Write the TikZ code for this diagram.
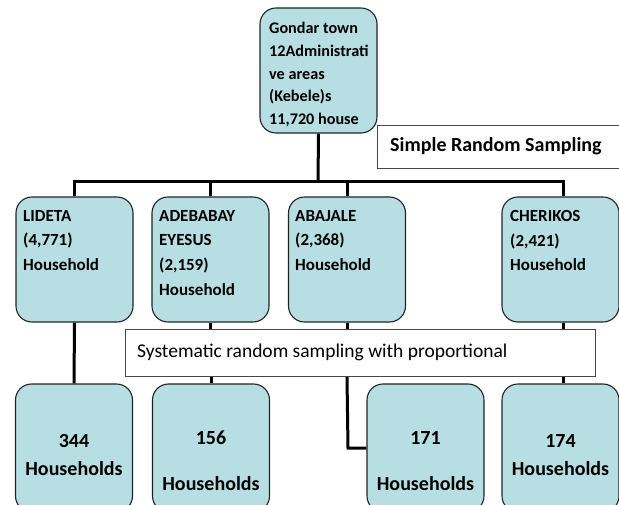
\documentclass[tikz,border=0pt]{standalone}
\usepackage{fontspec}
\setmainfont{Carlito}
\definecolor{boxfill}{RGB}{183,222,226}
\definecolor{boxline}{RGB}{35,35,35}
\definecolor{plainline}{RGB}{70,70,70}
\begin{document}
\begin{tikzpicture}[x=1pt,y=-1pt,
  box/.style={draw=boxline, line width=1.1pt, fill=boxfill, rounded corners=16pt,
    minimum width=117pt, minimum height=125pt, inner sep=0pt},
  lowbox/.style={box, minimum width=117pt, minimum height=128pt},
  plainbox/.style={draw=plainline, line width=1pt, fill=white, inner sep=0pt, anchor=north west},
  toptxt/.style={anchor=north west, inner sep=0pt, align=left, font=\fontsize{16.2}{22.8}\selectfont\bfseries},
  midtxt/.style={anchor=north west, inner sep=0pt, align=left, font=\fontsize{17}{24.7}\selectfont\bfseries},
  lowtxt/.style={inner sep=0pt, font=\fontsize{20}{24}\selectfont\bfseries},
  conn/.style={line width=3pt, black}
]
\useasboundingbox (0,0) rectangle (619,505);

\coordinate (bus) at (318,182);
\coordinate (j3) at (348,448);

% boxes
\node[box] (top) at (318.5,70.5) {};
\node[box] (r1) at (74.5,259.5) {};
\node[box] (r2) at (210.5,259.5) {};
\node[box] (r3) at (347,259.5) {};
\node[box] (r4) at (560.5,259.5) {};

\node[plainbox, minimum width=260pt, minimum height=43pt] (srs) at (377,125) {};
\node[plainbox, minimum width=470pt, minimum height=47pt] (sys) at (125,329) {};

\node[lowbox] (b1) at (74,448) {};
\node[lowbox] (b2) at (211,448) {};
\node[lowbox] (b3) at (425.5,448) {};
\node[lowbox] (b4) at (560.5,448) {};

% connector lines
\draw[conn] (top.south) -- (bus);
\draw[conn] (r1.north) |- (bus);
\draw[conn] (r2.north) |- (bus);
\draw[conn] (r3.north) |- (bus);
\draw[conn] ([xshift=2.5pt]r4.north) |- (bus);
\draw[conn] (r1.south) -- (b1.north);
\draw[conn] (r2.south) -- (r2.south |- sys.north);
\draw[conn] (b2.north |- sys.south) -- (b2.north);
\draw[conn] (r3.south) -- (r3.south |- sys.north);
\draw[conn] (r3.south |- sys.south) -- (j3) -- (b3.west);
\draw[conn] ([xshift=2.5pt]r4.south) -- ([xshift=2.5pt]r4.south |- sys.north);
\draw[conn] ([xshift=2.5pt]b4.north |- sys.south) -- ([xshift=2.5pt]b4.north);

% texts
\node[toptxt] (ttop) at (269,22) {Gondar town\\12Administrati\\ve areas\\(Kebele)s\\11,720 house};
\node[midtxt] (t1) at (23,210) {LIDETA\\(4,771)\\Household};
\node[midtxt] (t2) at (159,210) {ADEBABAY\\EYESUS\\(2,159)\\Household};
\node[midtxt] (t3) at (295,210) {ABAJALE\\(2,368)\\Household};
\node[midtxt] (t4) at (510,210) {CHERIKOS\\(2,421)\\Household};

\node[anchor=west, inner sep=0pt, font=\fontsize{20}{24}\selectfont\bfseries] (tsrs) at (390,146.5) {Simple Random Sampling};
\node[anchor=west, inner sep=0pt, font=\fontsize{19.5}{24}\selectfont] (tsys) at (137,352.5) {Systematic random sampling with proportional};

\node[lowtxt] (n1) at (74,441) {344};
\node[lowtxt] (h1) at (74,469) {Households};
\node[lowtxt] (n2) at (211,438) {156};
\node[lowtxt] (h2) at (211,484) {Households};
\node[lowtxt] (n3) at (425.5,438) {171};
\node[lowtxt] (h3) at (425.5,484) {Households};
\node[lowtxt] (n4) at (560.5,441) {174};
\node[lowtxt] (h4) at (560.5,469) {Households};
\end{tikzpicture}
\end{document}
